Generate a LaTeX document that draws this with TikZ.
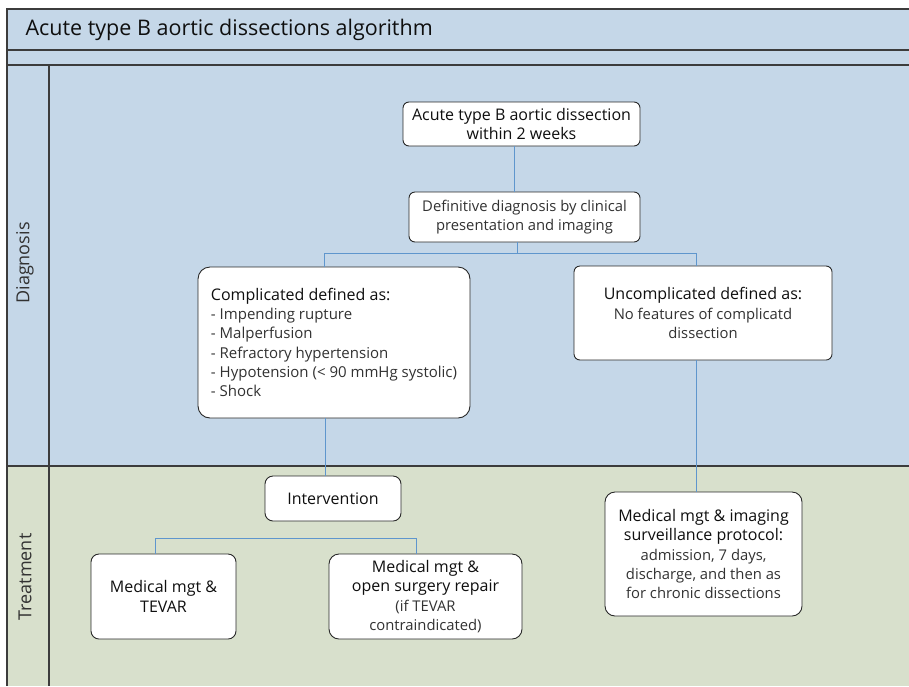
\documentclass[tikz,border=0pt]{standalone}
\usepackage{fontspec}
\setmainfont{Open Sans}
\definecolor{blueband}{RGB}{197,215,232}
\definecolor{greenband}{RGB}{216,224,204}
\definecolor{laneline}{RGB}{60,60,60}
\definecolor{boxline}{RGB}{40,40,40}
\definecolor{connblue}{RGB}{95,150,205}
\definecolor{lighttext}{RGB}{50,50,50}
\definecolor{darktext}{RGB}{15,15,15}
\newcommand{\lighter}{\color{lighttext}\fontsize{14.8}{19.3}\selectfont}
\newcommand{\lighterlist}{\color{lighttext}\fontsize{15}{19.3}\selectfont}
\begin{document}
\begin{tikzpicture}[x=1pt,y=-1pt,
  box/.style={draw=boxline,fill=white,line width=0.9pt,rounded corners=6pt,align=center,inner sep=2pt,text=darktext,font=\fontsize{16}{19.3}\selectfont},
  conn/.style={draw=connblue,line width=0.9pt},
  lane/.style={draw=laneline,line width=1.3pt},
  lanelabel/.style={rotate=90,text=lighttext,font=\fontsize{18}{20}\selectfont}]
\useasboundingbox (0,0) rectangle (909,686);
\fill[blueband] (7,9) rectangle (909,466);
\fill[greenband] (7,466) rectangle (909,686);
\draw[lane] (909,9) -- (7,9) -- (7,686);
\draw[lane] (7,50) -- (909,50);
\draw[lane] (7,65) -- (909,65);
\draw[lane] (7,466) -- (909,466);
\draw[lane] (49,65) -- (49,686);
\node[anchor=west,text=darktext,font=\fontsize{21.5}{23}\selectfont] (title) at (22,30) {Acute type B aortic dissections algorithm};
\node[lanelabel] (diag) at (25,263) {Diagnosis};
\node[lanelabel] (treat) at (25,577) {Treatment};
% diagnosis boxes
\node[box,minimum width=237pt,minimum height=44pt] (acute) at (521.5,124) {Acute type B aortic dissection\\within 2 weeks};
\node[box,minimum width=231pt,minimum height=50pt] (def) at (524.5,217) {\lighter Definitive diagnosis by clinical\\\lighter presentation and imaging};
\node[box,rounded corners=12pt,minimum width=272pt,minimum height=151pt,align=left] (comp) at (334,342.5) {Complicated defined as:\\\lighterlist - Impending rupture\\\lighterlist - Malperfusion\\\lighterlist - Refractory hypertension\\\lighterlist - Hypotension (< 90 mmHg systolic)\\\lighterlist - Shock};
\node[box,minimum width=258pt,minimum height=94pt] (uncomp) at (703,313) {Uncomplicated defined as:\\\lighter No features of complicatd\\\lighter dissection};
% treatment boxes
\node[box,rounded corners=8pt,minimum width=136pt,minimum height=45pt] (interv) at (333,498.5) {Intervention};
\node[box,rounded corners=8pt,minimum width=145pt,minimum height=85pt] (tevar) at (163.5,596.5) {Medical mgt \&\\TEVAR};
\node[box,rounded corners=10pt,minimum width=193pt,minimum height=85pt] (open) at (425.5,596.5) {Medical mgt \&\\open surgery repair\\\lighter (if TEVAR\\\lighter contraindicated)};
\node[box,rounded corners=10pt,minimum width=197pt,minimum height=124pt] (surv) at (703.5,554) {Medical mgt \& imaging\\surveillance protocol:\\\lighter admission, 7 days,\\\lighter discharge, and then as\\\lighter for chronic dissections};
% connectors
\draw[conn] ([xshift=-7pt]acute.south) -- ([xshift=-7pt]acute.south |- def.north);
\draw[conn] ([xshift=-7pt]def.south) -- ++(0,11) coordinate (split);
\draw[conn] ([xshift=-10pt]comp.north) |- (split) -| ([xshift=-7pt]uncomp.north);
\draw[conn] ([xshift=-9pt]comp.south) -- ([xshift=-9pt]comp.south |- interv.north);
\draw[conn] ([xshift=-7pt]uncomp.south) -- ([xshift=-7pt]uncomp.south |- surv.north);
\draw[conn] ([xshift=-8pt]tevar.north) -- ++(0,-15) -| ([xshift=-9pt]open.north);
\end{tikzpicture}
\end{document}
